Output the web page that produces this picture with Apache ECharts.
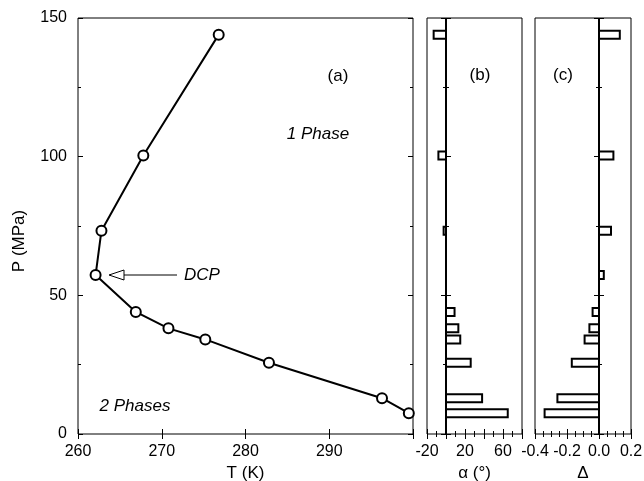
<!DOCTYPE html>
<html>
<head>
<meta charset="utf-8">
<style>
  html, body { margin: 0; padding: 0; background: #fff; }
  #main { width: 644px; height: 481px; }
</style>
</head>
<body>
<div id="main"></div>
<script src="https://cdn.jsdelivr.net/npm/echarts@6/dist/echarts.min.js"></script>
<script>
// phase boundary, T (K) and P (MPa)
var tempK = [276.8, 267.8, 262.8, 262.1, 266.9, 270.8, 275.2, 282.8, 296.3, 299.5];
var pressMPa = [144, 100.4, 73.3, 57.3, 44.0, 38.1, 34.1, 25.7, 12.9, 7.5];
// panel (b): alpha in degrees, panel (c): Delta
var alphaDeg = [-13, -8, -2.5, 0, 9, 13, 15, 26, 38, 65];
var deltaVal = [0.13, 0.09, 0.075, 0.03, -0.04, -0.06, -0.09, -0.17, -0.26, -0.34];

var font = 'Liberation Sans, Arial, Helvetica, sans-serif';
var black = '#000';

function pairs(xs, ys) {
  return xs.map(function (x, i) { return [x, ys[i]]; });
}

// horizontal outlined bar from 0 to value, at height P
function barItem(params, api) {
  var p0 = api.coord([0, api.value(1)]);
  var p1 = api.coord([api.value(0), api.value(1)]);
  return {
    type: 'rect',
    shape: {
      x: Math.min(p0[0], p1[0]),
      y: p0[1] - 4,
      width: Math.abs(p1[0] - p0[0]),
      height: 8
    },
    style: { fill: '#fff', stroke: black, lineWidth: 2 }
  };
}

function bottomAxis(grid, min, max, interval, fmt, minorSplit, name) {
  return {
    type: 'value', gridIndex: grid, min: min, max: max, interval: interval,
    axisLine: { show: false },
    axisTick: { show: true, inside: true, length: 5, lineStyle: { color: black } },
    minorTick: { show: minorSplit > 0, splitNumber: minorSplit || 1, length: 3, lineStyle: { color: black } },
    splitLine: { show: false },
    axisLabel: { color: black, fontFamily: font, fontSize: 16, margin: 10, formatter: fmt, showMinLabel: true, showMaxLabel: true },
    name: name, nameLocation: 'middle', nameGap: 29,
    nameTextStyle: { color: black, fontFamily: font, fontSize: 17 }
  };
}

function mirrorX(grid, min, max, interval, minorSplit) {
  return {
    type: 'value', gridIndex: grid, position: 'top', min: min, max: max, interval: interval,
    axisLine: { show: false },
    axisTick: { show: true, inside: true, length: 5, lineStyle: { color: black } },
    minorTick: { show: minorSplit > 0, splitNumber: minorSplit || 1, length: 3, lineStyle: { color: black } },
    splitLine: { show: false },
    axisLabel: { show: false }
  };
}

function yAx(grid, pos, showLabel) {
  return {
    type: 'value', gridIndex: grid, position: pos, min: 0, max: 150, interval: 50,
    axisLine: { show: false },
    axisTick: { show: true, inside: true, length: 5, lineStyle: { color: black } },
    minorTick: { show: true, splitNumber: 2, length: 3, lineStyle: { color: black } },
    splitLine: { show: false },
    axisLabel: { show: showLabel, color: black, fontFamily: font, fontSize: 16, margin: 11 }
  };
}

var gridBase = {
  show: true, borderColor: black, borderWidth: 1, backgroundColor: '#fff',
  top: 18, bottom: 47, containLabel: false, outerBoundsMode: 'none'
};

var myChart = echarts.init(document.getElementById('main'), null, { renderer: 'canvas' });

var option = {
  animation: false,
  backgroundColor: '#fff',
  grid: [
    Object.assign({}, gridBase, { left: 78, width: 335 }),
    Object.assign({}, gridBase, { left: 427, width: 95 }),
    Object.assign({}, gridBase, { left: 535, width: 96 })
  ],
  xAxis: [
    bottomAxis(0, 260, 300, 10, function (v) { return v === 300 ? '' : v; }, 0, 'T (K)'),
    bottomAxis(1, -20, 80, 20, function (v) { return (v === -20 || v === 20 || v === 60) ? v : ''; }, 2, 'α (°)'),
    bottomAxis(2, -0.4, 0.2, 0.2, function (v) { return v.toFixed(1); }, 4, 'Δ'),
    mirrorX(0, 260, 300, 10, 0),
    mirrorX(1, -20, 80, 20, 2),
    mirrorX(2, -0.4, 0.2, 0.2, 4)
  ],
  yAxis: [
    yAx(0, 'left', true),
    yAx(1, 'left', false),
    yAx(2, 'left', false),
    yAx(0, 'right', false),
    yAx(1, 'right', false),
    yAx(2, 'right', false)
  ],
  series: [
    {
      type: 'line', xAxisIndex: 0, yAxisIndex: 0,
      data: pairs(tempK, pressMPa),
      symbol: 'circle', symbolSize: 10,
      lineStyle: { color: black, width: 2 },
      itemStyle: { color: '#fff', borderColor: black, borderWidth: 2 },
      z: 3
    },
    {
      type: 'custom', xAxisIndex: 1, yAxisIndex: 1,
      data: pairs(alphaDeg, pressMPa),
      renderItem: barItem,
      markLine: {
        silent: true, symbol: 'none', label: { show: false },
        lineStyle: { color: black, width: 2, type: 'solid' },
        data: [{ xAxis: 0 }]
      }
    },
    {
      type: 'custom', xAxisIndex: 2, yAxisIndex: 2,
      data: pairs(deltaVal, pressMPa),
      renderItem: barItem,
      markLine: {
        silent: true, symbol: 'none', label: { show: false },
        lineStyle: { color: black, width: 2, type: 'solid' },
        data: [{ xAxis: 0 }]
      }
    }
  ],
  graphic: [
    { type: 'text', x: 19, y: 241, rotation: Math.PI / 2, style: { text: 'P (MPa)', font: '17px ' + font, fill: black, align: 'center', verticalAlign: 'middle' } },
    { type: 'text', x: 338, y: 76, style: { text: '(a)', font: '17px ' + font, fill: black, align: 'center', verticalAlign: 'middle' } },
    { type: 'text', x: 318, y: 134, style: { text: '1 Phase', font: 'italic 17px ' + font, fill: black, align: 'center', verticalAlign: 'middle' } },
    { type: 'text', x: 135, y: 406, style: { text: '2 Phases', font: 'italic 17px ' + font, fill: black, align: 'center', verticalAlign: 'middle' } },
    { type: 'text', x: 202, y: 275, style: { text: 'DCP', font: 'italic 17px ' + font, fill: black, align: 'center', verticalAlign: 'middle' } },
    { type: 'line', shape: { x1: 124, y1: 275, x2: 177, y2: 275 }, style: { stroke: black, lineWidth: 1 } },
    { type: 'polygon', shape: { points: [[109, 275], [124, 270], [124, 280]] }, style: { fill: '#fff', stroke: black, lineWidth: 1 } },
    { type: 'text', x: 480, y: 75, style: { text: '(b)', font: '17px ' + font, fill: black, align: 'center', verticalAlign: 'middle' } },
    { type: 'text', x: 563, y: 75, style: { text: '(c)', font: '17px ' + font, fill: black, align: 'center', verticalAlign: 'middle' } }
  ]
};

myChart.setOption(option);
window.onresize = function () {
  myChart.resize();
};
</script>
</body>
</html>
